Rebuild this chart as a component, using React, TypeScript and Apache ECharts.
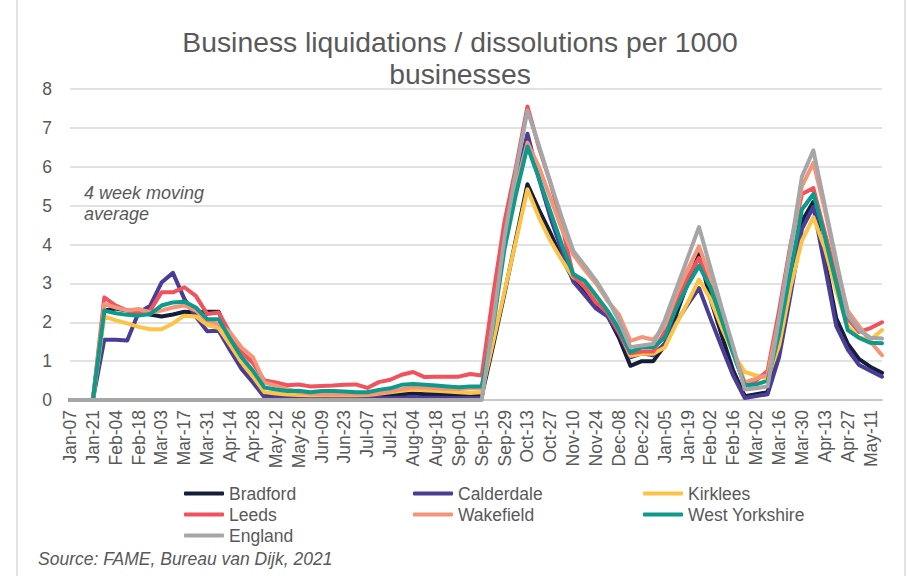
import React, { useEffect, useRef } from "react";
import * as echarts from "echarts";

const weeks = [
  "Jan-07", "Jan-14", "Jan-21", "Jan-28", "Feb-04", "Feb-11", "Feb-18", "Feb-25",
  "Mar-03", "Mar-10", "Mar-17", "Mar-24", "Mar-31", "Apr-07", "Apr-14", "Apr-21",
  "Apr-28", "May-05", "May-12", "May-19", "May-26", "Jun-02", "Jun-09", "Jun-16",
  "Jun-23", "Jun-30", "Jul-07", "Jul-14", "Jul-21", "Jul-28", "Aug-04", "Aug-11",
  "Aug-18", "Aug-25", "Sep-01", "Sep-08", "Sep-15", "Sep-22", "Sep-29", "Oct-06",
  "Oct-13", "Oct-20", "Oct-27", "Nov-03", "Nov-10", "Nov-17", "Nov-24", "Dec-01",
  "Dec-08", "Dec-15", "Dec-22", "Dec-29", "Jan-05", "Jan-12", "Jan-19", "Jan-26",
  "Feb-02", "Feb-09", "Feb-16", "Feb-23", "Mar-02", "Mar-09", "Mar-16", "Mar-23",
  "Mar-30", "Apr-06", "Apr-13", "Apr-20", "Apr-27", "May-04", "May-11", "May-18",
];

const bradford = [
  0, 0, 0, 2.3, 2.35, 2.3, 2.25, 2.2, 2.15, 2.2, 2.27, 2.25, 2.27, 2.27,
  1.55, 1.0, 0.65, 0.15, 0.1, 0.1, 0.1, 0.1, 0.1, 0.1, 0.1, 0.1, 0.1, 0.1, 0.12,
  0.15, 0.17, 0.15, 0.15, 0.14, 0.12, 0.1, 0.1,
  1.4, 2.75, 4.15, 5.55, 4.9, 4.3, 3.65, 3.1, 2.8, 2.47, 2.17, 1.6, 0.88, 1.0, 1.0,
  1.4, 2.2, 3.0, 3.75, 2.6, 1.65, 0.75, 0.1, 0.15, 0.2,
  1.4, 3.0, 4.6, 5.1, 3.6, 2.1, 1.45, 1.05, 0.85, 0.7,
];

const calderdale = [
  0, 0, 0, 1.55, 1.55, 1.53, 2.25, 2.42, 3.02, 3.27, 2.6, 2.15, 1.77, 1.78,
  1.28, 0.8, 0.45, 0.07, 0.07, 0.06, 0.06, 0.05, 0.05, 0.05, 0.05, 0.05, 0.05, 0.05, 0.05,
  0.06, 0.07, 0.06, 0.06, 0.05, 0.05, 0.05, 0.05,
  2.4, 4.45, 5.6, 6.85, 5.7, 4.7, 3.85, 3.05, 2.7, 2.35, 2.15, 1.7, 1.1, 1.2, 1.15,
  1.45, 2.0, 2.45, 2.88, 2.1, 1.35, 0.62, 0.05, 0.1, 0.15,
  1.1, 2.7, 4.4, 4.97, 3.45, 1.9, 1.3, 0.9, 0.75, 0.6,
];

const kirklees = [
  0, 0, 0, 2.15, 2.05, 1.97, 1.88, 1.82, 1.82, 1.97, 2.17, 2.15, 1.93, 1.85,
  1.42, 0.97, 0.6, 0.2, 0.17, 0.14, 0.13, 0.12, 0.12, 0.12, 0.12, 0.12, 0.13, 0.16, 0.2,
  0.24, 0.27, 0.26, 0.24, 0.22, 0.2, 0.18, 0.2,
  1.5, 2.8, 4.1, 5.42, 4.7, 4.1, 3.6, 3.16, 3.0, 2.56, 2.25, 1.79, 1.14, 1.19, 1.19,
  1.35, 1.95, 2.5, 3.1, 2.6, 1.85, 1.2, 0.72, 0.63, 0.55,
  1.4, 2.9, 4.1, 4.7, 3.9, 2.8, 1.9, 1.6, 1.55, 1.8,
];

const leeds = [
  0, 0, 0, 2.64, 2.43, 2.3, 2.25, 2.3, 2.77, 2.77, 2.9, 2.68, 2.21, 2.25,
  1.72, 1.23, 0.95, 0.5, 0.45, 0.38, 0.4, 0.35, 0.36, 0.37, 0.39, 0.4, 0.31, 0.46, 0.52,
  0.65, 0.72, 0.59, 0.6, 0.6, 0.6, 0.67, 0.63,
  2.7, 4.6, 6.0, 7.55, 6.5, 5.6, 4.5, 3.2, 2.9, 2.5, 2.25, 1.75, 1.2, 1.25, 1.25,
  1.75, 2.55, 3.15, 3.65, 3.0, 2.1, 1.2, 0.4, 0.5, 0.75,
  2.3, 4.0, 5.3, 5.45, 4.3, 3.2, 2.1, 1.75, 1.85, 2.0,
];

const wakefield = [
  0, 0, 0, 2.47, 2.38, 2.3, 2.34, 2.25, 2.3, 2.38, 2.43, 2.3, 2.04, 1.95,
  1.74, 1.35, 1.1, 0.45, 0.37, 0.28, 0.2, 0.16, 0.15, 0.15, 0.15, 0.15, 0.15, 0.18, 0.22,
  0.28, 0.33, 0.32, 0.3, 0.28, 0.28, 0.3, 0.3,
  2.0, 4.0, 5.5, 6.62, 6.0, 5.2, 4.4, 3.75, 3.35, 3.0, 2.55, 2.2, 1.52, 1.62, 1.55,
  1.9, 2.7, 3.35, 3.95, 3.15, 2.2, 1.27, 0.45, 0.55, 0.65,
  2.1, 3.9, 5.5, 6.1, 4.9, 3.5, 2.3, 1.9, 1.5, 1.15,
];

const westYorkshire = [
  0, 0, 0, 2.3, 2.23, 2.19, 2.17, 2.21, 2.43, 2.51, 2.53, 2.38, 2.08, 2.08,
  1.57, 1.1, 0.75, 0.32, 0.27, 0.23, 0.24, 0.2, 0.23, 0.23, 0.22, 0.2, 0.2, 0.26, 0.3,
  0.39, 0.41, 0.39, 0.37, 0.35, 0.33, 0.35, 0.35,
  1.9, 3.9, 5.3, 6.52, 5.7, 4.85, 4.0, 3.24, 3.07, 2.69, 2.3, 1.83, 1.23, 1.36, 1.36,
  1.6, 2.35, 2.95, 3.45, 2.9, 2.04, 1.19, 0.38, 0.4, 0.5,
  1.7, 3.3, 4.9, 5.3, 4.2, 3.0, 1.8, 1.6, 1.47, 1.46,
];

const england = [
  0, 0, 0, 0, 0, 0, 0, 0, 0, 0, 0, 0, 0, 0,
  0, 0, 0, 0, 0, 0, 0, 0, 0, 0, 0, 0, 0, 0, 0,
  0, 0, 0, 0, 0, 0, 0, 0,
  2.0, 4.2, 5.9, 7.45, 6.55, 5.6, 4.7, 3.84, 3.46, 3.07, 2.6, 2.04, 1.36, 1.4, 1.44,
  2.05, 2.85, 3.65, 4.45, 3.4, 2.35, 1.36, 0.27, 0.3, 0.35,
  2.1, 3.9, 5.75, 6.42, 5.0, 3.6, 2.2, 1.8, 1.6, 1.58,
];

const seriesNames = ["Bradford", "Calderdale", "Kirklees", "Leeds", "Wakefield", "West Yorkshire", "England"];
const seriesData = [bradford, calderdale, kirklees, leeds, wakefield, westYorkshire, england];
const seriesColors = ["#141d3a", "#4a3d96", "#fdc344", "#f2525c", "#f4957a", "#0c9a8b", "#a6a6a6"];

const titleLines = ["Business liquidations / dissolutions per 1000", "businesses"];
const noteLines = ["4 week moving", "average"];
const sourceText = "Source: FAME, Bureau van Dijk, 2021";

export default function App() {
  const ref = useRef<HTMLDivElement>(null);

  useEffect(() => {
    if (!ref.current) return;
    const chart = echarts.init(ref.current, null, { renderer: "svg" });
    const font = "'Liberation Sans', Arial, sans-serif";
    const textColor = "#595959";
    const legendBase = {
      orient: "vertical",
      top: 478,
      itemWidth: 40,
      itemHeight: 4,
      itemGap: 0,
      icon: "roundRect",
      textStyle: { fontFamily: font, fontSize: 17.5, color: textColor, lineHeight: 21 },
    };

    chart.setOption({
      animation: false,
      backgroundColor: "#ffffff",
      color: seriesColors,
      grid: { left: 70, top: 89, width: 812, height: 311, containLabel: false },
      xAxis: {
        type: "category",
        data: weeks,
        boundaryGap: false,
        axisLine: { show: true, lineStyle: { color: "#bfbfbf", width: 1.5 } },
        axisTick: { show: false },
        axisLabel: {
          interval: 1,
          rotate: 90,
          margin: 10,
          fontFamily: font,
          fontSize: 17.5,
          color: textColor,
        },
        splitLine: { show: false },
      },
      yAxis: {
        type: "value",
        min: 0,
        max: 8,
        interval: 1,
        axisLine: { show: false },
        axisTick: { show: false },
        axisLabel: { margin: 18, fontFamily: font, fontSize: 17.5, color: textColor },
        splitLine: { lineStyle: { color: "#d9d9d9", width: 1.5 } },
      },
      legend: [
        { ...legendBase, left: 179, data: ["Bradford", "Leeds", "England"] },
        { ...legendBase, left: 408, data: ["Calderdale", "Wakefield"] },
        { ...legendBase, left: 638, data: ["Kirklees", "West Yorkshire"] },
      ],
      series: seriesNames.map((name, k) => ({
        name,
        type: "line",
        data: seriesData[k],
        symbol: "none",
        showSymbol: false,
        color: seriesColors[k],
        lineStyle: { width: 4, color: seriesColors[k], join: "round", cap: "round" },
        emphasis: { disabled: true },
        z: 2 + k,
      })),
      graphic: [
        {
          type: "rect",
          silent: true,
          z: -10,
          shape: { x: 17, y: -10, width: 888, height: 600 },
          style: { fill: "none", stroke: "#d9d9d9", lineWidth: 1.5 },
        },
        {
          type: "text",
          x: 460,
          y: 42,
          style: { text: titleLines[0], fontFamily: font, fontSize: 28.3, fill: textColor, textAlign: "center", textVerticalAlign: "middle" },
        },
        {
          type: "text",
          x: 460,
          y: 74,
          style: { text: titleLines[1], fontFamily: font, fontSize: 28.3, fill: textColor, textAlign: "center", textVerticalAlign: "middle" },
        },
        {
          type: "text",
          x: 84,
          y: 193,
          style: { text: noteLines[0], fontFamily: font, fontSize: 18, fontStyle: "italic", fill: textColor, textAlign: "left", textVerticalAlign: "middle" },
        },
        {
          type: "text",
          x: 84,
          y: 214,
          style: { text: noteLines[1], fontFamily: font, fontSize: 18, fontStyle: "italic", fill: textColor, textAlign: "left", textVerticalAlign: "middle" },
        },
        {
          type: "text",
          x: 38,
          y: 559,
          style: { text: sourceText, fontFamily: font, fontSize: 17.5, fontStyle: "italic", fill: textColor, textAlign: "left", textVerticalAlign: "middle" },
        },
      ],
    });

    return () => chart.dispose();
  }, []);

  return (
    <div
      ref={ref}
      style={{ position: "fixed", left: 0, top: 0, width: 907, height: 576, background: "#ffffff" }}
    />
  );
}
